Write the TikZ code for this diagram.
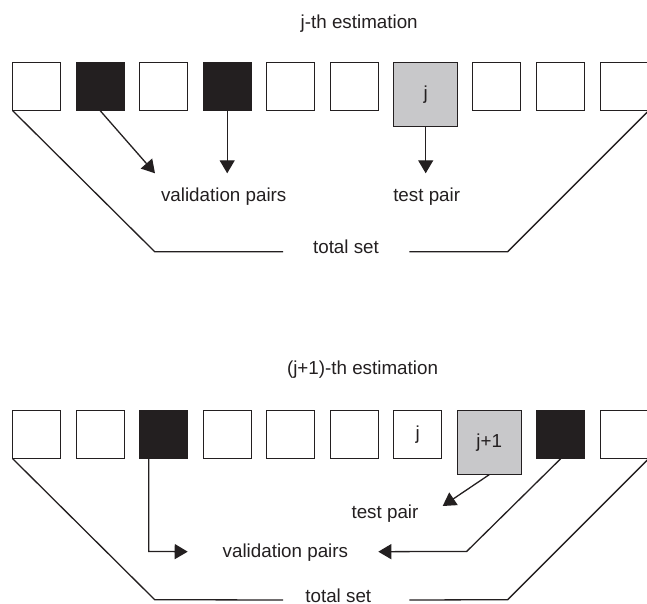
\documentclass[tikz,border=0pt]{standalone}
\usepackage{fontspec}
\setmainfont{Liberation Sans}
\usetikzlibrary{arrows.meta,calc}
\definecolor{ink}{HTML}{231F20}
\definecolor{greyfill}{HTML}{C8C8CA}
\begin{document}
\begin{tikzpicture}[x=1pt,y=-1pt,
  txt/.style={text=ink,font=\fontsize{18.8}{22}\selectfont},
  cell/.style={txt,draw=ink,line width=1.4pt,minimum width=48pt,minimum height=48pt,inner sep=0pt,outer sep=0pt,fill=white,anchor=north west},
  dark/.style={cell,fill=ink},
  greycell/.style={cell,fill=greyfill,minimum width=64pt,minimum height=64pt},
  lbl/.style={txt,inner sep=0pt,anchor=base},
  conn/.style={draw=ink,line width=1.3pt},
  arr/.style={conn,-{Triangle[length=13pt,width=15pt]}}]
\useasboundingbox (0,0) rectangle (647,604);

% ---------- j-th estimation ----------
\node[lbl] (h1) at (359.2,28.5) {j-th estimation};
\node[cell]     (t1)  at (12.7,62.7)  {};
\node[dark]     (t2)  at (76.2,62.7)  {};
\node[cell]     (t3)  at (139.7,62.7) {};
\node[dark]     (t4)  at (203.2,62.7) {};
\node[cell]     (t5)  at (266.7,62.7) {};
\node[cell]     (t6)  at (330.2,62.7) {};
\node[greycell] (t7)  at (393.7,62.7) {j};
\node[cell]     (t8)  at (472.7,62.7) {};
\node[cell]     (t9)  at (536.7,62.7) {};
\node[cell]     (t10) at (600.7,62.7) {};

\coordinate (tipA) at (155,173.3);
\draw[arr] (t2.south) -- (tipA);
\draw[arr] (t4.south) -- (t4.south |- tipA);
\draw[arr] (t7.south) -- (t7.south |- tipA);
\node[lbl] (val1) at (223.7,201.5) {validation pairs};
\node[lbl] (tp1)  at (426.7,201.5) {test pair};

\node[lbl] (ts1) at (346,253) {total set};
\coordinate (c1) at ($(t1.south west)+(142,141)$);
\coordinate (l1) at (283,251.7);
\coordinate (r1) at (409.3,251.7);
\coordinate (c2) at ($(t10.south east)+(-141,141)$);
\draw[conn] (t1.south west) -- (c1) -- (l1);
\draw[conn] (r1) -- (c2) -- (t10.south east);

% ---------- (j+1)-th estimation ----------
\node[lbl] (h2) at (362.5,374.4) {(j+1)-th estimation};
\node[cell]     (b1)  at (12.7,410.7)  {};
\node[cell]     (b2)  at (76.2,410.7)  {};
\node[dark]     (b3)  at (139.7,410.7) {};
\node[cell]     (b4)  at (203.2,410.7) {};
\node[cell]     (b5)  at (266.7,410.7) {};
\node[cell]     (b6)  at (330.2,410.7) {};
\node[cell]     (b7)  at (393.7,410.7) {j};
\node[greycell] (b8)  at (457.2,410.7) {j+1};
\node[dark]     (b9)  at (536.7,410.7) {};
\node[cell]     (b10) at (600.7,410.7) {};

\coordinate (tipT) at (442.7,506);
\draw[arr] (b8.south) -- (tipT);
\node[lbl] (tp2) at (385,518) {test pair};

\coordinate (s3) at ($(b3.south west)+(9,0)$);
\coordinate (k1) at ($(s3)+(0,92.7)$);
\coordinate (tipV1) at (187.7,551.7);
\draw[arr] (s3) -- (k1) -- (tipV1);
\coordinate (k2) at ($(b9.south)+(-94,92.7)$);
\coordinate (tipV2) at (378.3,551.7);
\draw[arr] (b9.south) -- (k2) -- (tipV2);
\node[lbl] (val2) at (285.4,557) {validation pairs};

\node[lbl] (ts2) at (338.3,602) {total set};
\coordinate (c3) at ($(b1.south west)+(142,141)$);
\coordinate (l2) at (283,600);
\coordinate (r2) at (409.3,600);
\coordinate (c4) at ($(b10.south east)+(-141,141)$);
\draw[conn] (b1.south west) -- (c3) -- (l2);
\draw[conn] (r2) -- (c4) -- (b10.south east);
\end{tikzpicture}
\end{document}
